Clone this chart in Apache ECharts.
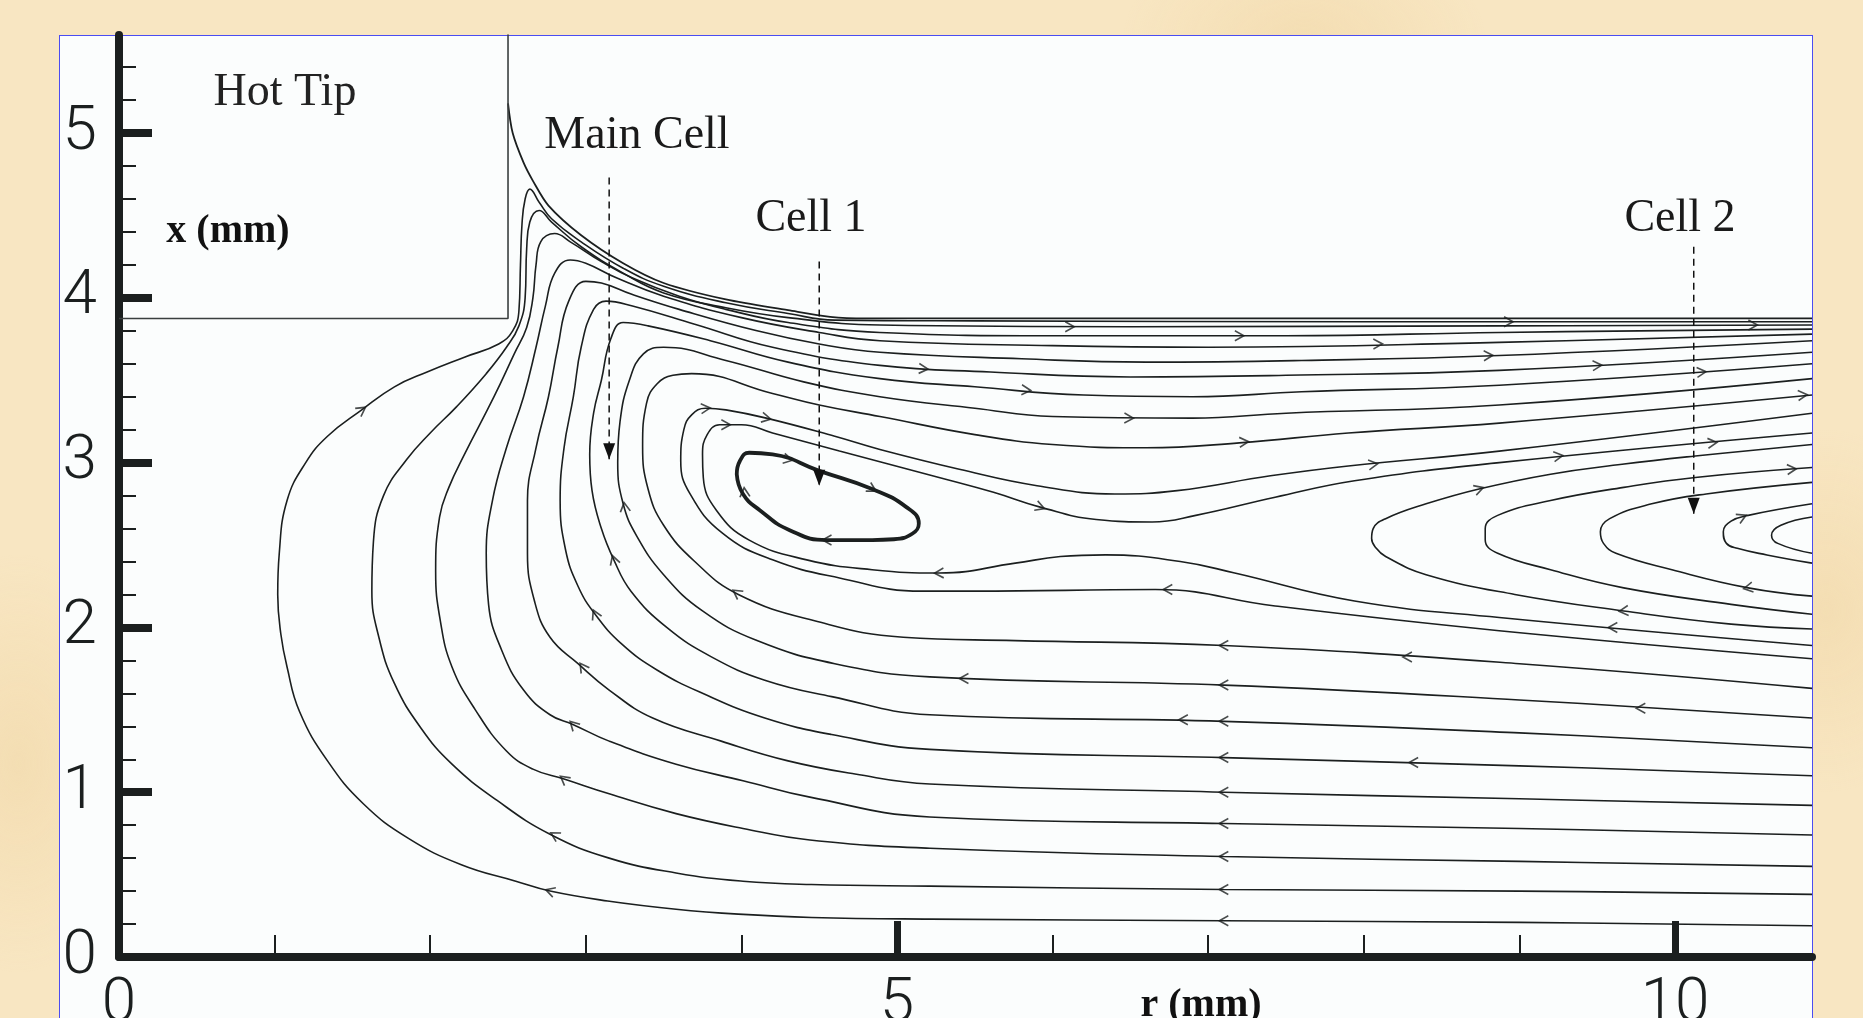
<!DOCTYPE html>
<html>
<head>
<meta charset="utf-8">
<title>Streamlines below the hot tip</title>
<script src="https://cdn.jsdelivr.net/npm/echarts@6/dist/echarts.min.js"></script>
<style>
  html, body { margin: 0; padding: 0; width: 1863px; height: 1018px; overflow: hidden; }
  body {
    background-color: #f8e6c2;
    background-image:
      radial-gradient(ellipse 220px 140px at 12% 20%, rgba(236,206,150,0.35), rgba(236,206,150,0) 70%),
      radial-gradient(ellipse 260px 160px at 70% 4%, rgba(236,206,150,0.35), rgba(236,206,150,0) 70%),
      radial-gradient(ellipse 200px 260px at 98% 60%, rgba(236,206,150,0.35), rgba(236,206,150,0) 70%),
      radial-gradient(ellipse 180px 300px at 1% 75%, rgba(236,206,150,0.35), rgba(236,206,150,0) 70%);
  }
  #frame {
    position: absolute; left: 59px; top: 35px; width: 1754px; height: 1100px;
    box-sizing: border-box; background: #fbfdfd; border: 1.5px solid #4b4cf2;
  }
  #chart { position: absolute; left: 0; top: 0; width: 1863px; height: 1018px; }
</style>
</head>
<body>
<div id="frame"></div>
<div id="chart"></div>
<script>
// ---- axis ticks and labels ----
const rTickLabels = [0, 5, 10];
const rMajorTicks = [5, 10];
const rMinorTicks = [1, 2, 3, 4, 6, 7, 8, 9];
const xTickLabels = [0, 1, 2, 3, 4, 5];
const xMajorTicks = [1, 2, 3, 4, 5];
const xMinorTicks = [0.2, 0.4, 0.6, 0.8, 1.2, 1.4, 1.6, 1.8, 2.2, 2.4, 2.6, 2.8,
                     3.2, 3.4, 3.6, 3.8, 4.2, 4.4, 4.6, 4.8, 5.2, 5.4];
const rRange = [0, 10.88];
const xRange = [0, 5.595];

// ---- geometry: hot tip outline and free surface (r, x in mm) ----
const hotTip = [[0, 3.875], [2.50, 3.875], [2.50, 5.6]];
const freeSurface = [[2.50, 5.18], [2.53, 5.00], [2.60, 4.82], [2.66, 4.71], [2.76, 4.56], [2.97, 4.38],
  [3.24, 4.21], [3.50, 4.09], [3.90, 3.99], [4.30, 3.925], [4.57, 3.885], [4.80, 3.875], [10.88, 3.875]];

// ---- main cell streamlines (outer to inner) ----
const stream01 = [[10.88, 0.19], [9.0, 0.21], [7.1, 0.22], [5.21, 0.23], [4.45, 0.24], [3.98, 0.26], [3.58, 0.29],
  [3.14, 0.34], [2.77, 0.40], [2.55, 0.46], [2.20, 0.56], [1.86, 0.72], [1.57, 0.93], [1.34, 1.19], [1.16, 1.49],
  [1.08, 1.76], [1.04, 1.96], [1.02, 2.20], [1.03, 2.45], [1.08, 2.77], [1.20, 3.00], [1.34, 3.16], [1.56, 3.32],
  [1.77, 3.46], [1.98, 3.55], [2.22, 3.64], [2.44, 3.72], [2.53, 3.80], [2.57, 3.92], [2.58, 4.20], [2.59, 4.45],
  [2.61, 4.60], [2.64, 4.66], [2.70, 4.58], [2.78, 4.48], [2.97, 4.34], [3.24, 4.18], [3.50, 4.07], [3.90, 3.97],
  [4.30, 3.905], [4.60, 3.865], [5.50, 3.86], [8.00, 3.855], [10.88, 3.855]];
const stream02 = [[10.88, 0.38], [9.0, 0.40], [7.1, 0.41], [5.21, 0.43], [4.45, 0.44], [4.01, 0.46], [3.58, 0.51],
  [3.15, 0.60], [2.77, 0.745], [2.43, 0.95], [2.14, 1.17], [1.94, 1.39], [1.77, 1.66], [1.67, 1.94], [1.625, 2.22],
  [1.635, 2.52], [1.70, 2.80], [1.85, 3.02], [2.00, 3.18], [2.17, 3.34], [2.36, 3.54], [2.49, 3.70], [2.57, 3.83],
  [2.61, 4.00], [2.62, 4.30], [2.64, 4.46], [2.70, 4.53], [2.78, 4.46], [2.97, 4.31], [3.24, 4.15], [3.50, 4.03],
  [3.90, 3.94], [4.30, 3.88], [4.89, 3.835], [6.50, 3.825], [8.87, 3.83], [10.88, 3.835]];
const stream03 = [[10.88, 0.55], [9.0, 0.58], [7.1, 0.61], [5.21, 0.66], [4.44, 0.71], [4.01, 0.78], [3.58, 0.87],
  [3.15, 0.99], [2.86, 1.08], [2.66, 1.14], [2.49, 1.25], [2.29, 1.50], [2.14, 1.76], [2.065, 2.04], [2.035, 2.34],
  [2.06, 2.67], [2.12, 2.85], [2.22, 3.05], [2.41, 3.40], [2.54, 3.66], [2.62, 3.82], [2.66, 4.00], [2.68, 4.20],
  [2.71, 4.34], [2.80, 4.39], [2.90, 4.34], [3.10, 4.22], [3.30, 4.12], [3.60, 4.01], [3.90, 3.93], [4.30, 3.85],
  [4.89, 3.79], [6.00, 3.77], [7.50, 3.77], [8.87, 3.79], [10.88, 3.81]];
const stream04 = [[10.88, 0.74], [9.0, 0.78], [7.1, 0.81], [5.21, 0.85], [4.44, 0.97], [4.01, 1.07], [3.58, 1.17],
  [3.15, 1.31], [2.92, 1.41], [2.77, 1.47], [2.60, 1.62], [2.46, 1.86], [2.375, 2.14], [2.36, 2.45], [2.40, 2.77],
  [2.49, 3.09], [2.60, 3.40], [2.68, 3.70], [2.74, 3.95], [2.80, 4.15], [2.90, 4.23], [3.00, 4.21], [3.20, 4.12],
  [3.50, 4.01], [4.00, 3.88], [4.50, 3.79], [4.89, 3.74], [6.00, 3.71], [7.00, 3.70], [8.87, 3.73], [10.88, 3.78]];
const stream05 = [[10.88, 0.92], [9.0, 0.96], [7.1, 1.00], [5.21, 1.05], [4.73, 1.11], [4.30, 1.19], [3.87, 1.31],
  [3.43, 1.45], [3.15, 1.62], [2.95, 1.78], [2.77, 1.94], [2.67, 2.16], [2.625, 2.45], [2.625, 2.77], [2.68, 3.09],
  [2.76, 3.40], [2.82, 3.70], [2.89, 3.98], [3.00, 4.10], [3.10, 4.09], [3.30, 4.02], [3.60, 3.93], [4.10, 3.80],
  [4.50, 3.72], [4.89, 3.67], [5.80, 3.63], [6.60, 3.61], [7.60, 3.62], [8.87, 3.65], [10.88, 3.74]];
const stream06 = [[10.88, 1.10], [9.0, 1.16], [7.1, 1.21], [5.21, 1.26], [4.58, 1.35], [4.15, 1.45], [3.75, 1.60],
  [3.46, 1.74], [3.23, 1.90], [3.06, 2.08], [2.95, 2.25], [2.87, 2.47], [2.835, 2.77], [2.86, 3.09], [2.92, 3.40],
  [2.97, 3.70], [3.05, 3.93], [3.13, 3.98], [3.30, 3.95], [3.70, 3.84], [4.20, 3.70], [4.89, 3.59], [5.60, 3.55],
  [6.50, 3.52], [7.50, 3.53], [8.87, 3.56], [10.88, 3.67]];
const stream07 = [[10.88, 1.27], [9.0, 1.36], [7.1, 1.43], [5.21, 1.47], [4.58, 1.58], [4.15, 1.68], [3.81, 1.82],
  [3.52, 2.00], [3.29, 2.22], [3.18, 2.41], [3.10, 2.60], [3.04, 2.83], [3.025, 3.05], [3.05, 3.30], [3.10, 3.50],
  [3.16, 3.75], [3.24, 3.85], [3.40, 3.83], [3.80, 3.74], [4.30, 3.61], [4.89, 3.51], [5.50, 3.46], [6.20, 3.41],
  [6.90, 3.40], [7.60, 3.43], [8.87, 3.47], [10.88, 3.60]];
const stream08 = [[10.88, 1.45], [9.0, 1.56], [7.1, 1.65], [5.21, 1.70], [4.60, 1.78], [4.10, 1.92], [3.75, 2.10],
  [3.50, 2.32], [3.33, 2.55], [3.24, 2.75], [3.205, 3.00], [3.22, 3.25], [3.28, 3.50], [3.37, 3.66], [3.50, 3.70],
  [3.90, 3.62], [4.40, 3.49], [4.89, 3.40], [5.50, 3.33], [6.00, 3.28], [6.90, 3.27], [7.50, 3.30], [8.87, 3.35],
  [10.88, 3.51]];
const stream09 = [[10.88, 1.63], [9.0, 1.78], [7.1, 1.89], [5.76, 1.92], [5.04, 1.94], [4.47, 2.04], [3.98, 2.20],
  [3.70, 2.40], [3.50, 2.62], [3.40, 2.84], [3.365, 3.10], [3.39, 3.36], [3.46, 3.48], [3.56, 3.53], [3.68, 3.54],
  [4.20, 3.42], [4.50, 3.35], [4.89, 3.28], [5.50, 3.17], [6.00, 3.11], [6.60, 3.09], [7.20, 3.12], [7.90, 3.18],
  [8.87, 3.24], [10.88, 3.41]];
const stream10 = [[10.88, 1.81], [8.87, 1.98], [7.43, 2.13], [6.66, 2.23], [5.50, 2.22], [5.16, 2.22], [4.63, 2.30],
  [4.20, 2.41], [3.88, 2.57], [3.67, 2.81], [3.61, 3.01], [3.63, 3.20], [3.68, 3.29], [3.77, 3.33], [3.90, 3.32],
  [4.16, 3.27], [4.60, 3.16], [4.89, 3.08], [5.40, 2.96], [5.90, 2.86], [6.40, 2.81], [6.80, 2.83], [7.40, 2.92],
  [7.90, 2.98], [8.87, 3.07], [10.88, 3.30]];
const stream11 = [[10.88, 1.89], [8.87, 2.06], [7.94, 2.16], [7.17, 2.33], [6.82, 2.40], [6.34, 2.44], [6.05, 2.43],
  [5.76, 2.39], [5.27, 2.33], [4.84, 2.35], [4.42, 2.41], [4.05, 2.53], [3.84, 2.71], [3.755, 2.91], [3.75, 3.05],
  [3.78, 3.17], [3.86, 3.23], [4.00, 3.23], [4.20, 3.18], [4.63, 3.07], [5.27, 2.91], [5.62, 2.82], [5.92, 2.73],
  [6.28, 2.655], [6.64, 2.64], [6.92, 2.68], [7.43, 2.79], [7.94, 2.89], [8.87, 3.00], [10.88, 3.18]];

// ---- cell 1: closed loop ----
const cell1Core = [[3.97, 2.93], [3.99, 3.01], [4.05, 3.06], [4.20, 3.05], [4.50, 2.95], [4.84, 2.84], [5.06, 2.73],
  [5.14, 2.63], [5.10, 2.57], [4.98, 2.535], [4.84, 2.53], [4.55, 2.53], [4.31, 2.59], [4.12, 2.71], [4.01, 2.81],
  [3.97, 2.93]];

// ---- cell 2: loops opening to the right edge ----
const cell2Loop1 = [[10.88, 3.11], [10.13, 3.04], [9.66, 2.99], [9.20, 2.93], [8.74, 2.84], [8.40, 2.75], [8.14, 2.66],
  [8.06, 2.60], [8.05, 2.54], [8.08, 2.48], [8.14, 2.43], [8.40, 2.32], [8.97, 2.20], [9.67, 2.10], [10.36, 2.02],
  [10.88, 1.99]];
const cell2Loop2 = [[10.88, 2.97], [10.13, 2.91], [9.67, 2.85], [9.20, 2.77], [8.86, 2.68], [8.78, 2.60], [8.78, 2.53],
  [8.86, 2.45], [9.20, 2.35], [9.67, 2.24], [10.36, 2.14], [10.88, 2.08]];
const cell2Loop3 = [[10.88, 2.88], [10.20, 2.81], [9.85, 2.75], [9.58, 2.66], [9.52, 2.58], [9.54, 2.51], [9.62, 2.45],
  [9.98, 2.35], [10.47, 2.24], [10.88, 2.19]];
const cell2Loop4 = [[10.88, 2.75], [10.47, 2.68], [10.36, 2.645], [10.31, 2.58], [10.33, 2.51], [10.40, 2.48],
  [10.59, 2.44], [10.88, 2.39]];
const cell2Loop5 = [[10.88, 2.67], [10.68, 2.62], [10.62, 2.56], [10.66, 2.51], [10.88, 2.45]];

// ---- pointer lines for the cell names: [r, top x, tip x] ----
const mainCellPointer = [3.15, 4.73, 3.02];
const cell1Pointer = [4.50, 4.22, 2.86];
const cell2Pointer = [10.12, 4.31, 2.69];

// ---- direction marks on the streamlines: [r, x, flow angle in degrees] ----
const flowArrows = [
  [7.1, 0.22, 180], [7.1, 0.41, 180], [7.1, 0.61, 180], [7.1, 0.81, 180], [7.1, 1.00, 180], [7.1, 1.21, 180],
  [7.1, 1.43, 180], [6.84, 1.44, 180], [7.1, 1.65, 180], [5.43, 1.69, 180], [7.1, 1.89, 180], [8.28, 1.82, 180],
  [9.78, 1.51, 180], [8.32, 1.18, 180], [9.6, 2.00, 180], [6.74, 2.23, 180], [5.27, 2.33, 182], [9.67, 2.10, 185],
  [10.47, 2.24, 190],
  [2.77, 0.40, 162], [2.80, 0.74, 150], [2.86, 1.08, 142], [2.92, 1.41, 135], [2.98, 1.76, 125], [3.06, 2.08, 115],
  [3.18, 2.41, 108], [3.25, 2.73, 98], [3.97, 2.21, 145], [1.56, 3.32, 35],
  [8.93, 3.855, 0], [10.5, 3.835, 0], [6.11, 3.825, 0], [7.20, 3.77, 0], [8.09, 3.72, 1], [8.80, 3.65, 2],
  [9.5, 3.59, 3], [10.17, 3.55, 5], [10.82, 3.41, 5], [5.17, 3.57, -4], [5.83, 3.44, -4], [6.49, 3.27, -1],
  [7.23, 3.125, 4], [8.06, 2.99, 8], [5.92, 2.73, -20], [9.25, 3.04, 8], [10.24, 3.12, 6], [10.75, 2.96, 5],
  [8.74, 2.84, 18], [10.43, 2.67, 25], [3.77, 3.33, 5], [4.16, 3.27, -12], [3.90, 3.23, 0],
  [4.30, 3.02, -12], [4.84, 2.84, -30], [4.55, 2.53, 180], [4.02, 2.82, 95]
];

// ---- labels ----
const labelTexts = ['Hot Tip', 'Main Cell', 'Cell 1', 'Cell 2', 'x (mm)', 'r (mm)'];

const INK = '#1b1f1f';
const streamlines = [stream01, stream02, stream03, stream04, stream05, stream06, stream07, stream08,
  stream09, stream10, stream11, cell2Loop1, cell2Loop2, cell2Loop3, cell2Loop4, cell2Loop5];

const series = [];
streamlines.forEach(function (pts) {
  series.push({
    type: 'line', data: pts, smooth: 0.45, smoothConstraint: false, showSymbol: false, silent: true,
    lineStyle: { color: INK, width: 1.6 }, z: 3
  });
});
series.push({
  type: 'line', data: cell1Core, smooth: 0.5, smoothConstraint: false, showSymbol: false, silent: true,
  lineStyle: { color: INK, width: 3.8 }, z: 3
});
series.push({
  type: 'line', data: freeSurface, smooth: 0.3, showSymbol: false, silent: true,
  lineStyle: { color: INK, width: 1.8 }, z: 3
});
series.push({
  type: 'line', data: hotTip, showSymbol: false, silent: true,
  lineStyle: { color: '#3a3f3f', width: 1.6 }, z: 3
});
[mainCellPointer, cell1Pointer, cell2Pointer].forEach(function (p) {
  series.push({
    type: 'line', silent: true, z: 4, showSymbol: true, symbol: 'none',
    lineStyle: { color: '#111', width: 1.5, type: [7, 5] },
    data: [
      { value: [p[0], p[1]], symbol: 'none' },
      { value: [p[0], p[2]], symbol: 'triangle', symbolSize: [12, 16], symbolRotate: 180,
        symbolOffset: [0, -8], itemStyle: { color: '#111' } }
    ]
  });
});
series.push({
  type: 'scatter', silent: true, z: 5,
  symbol: 'path://M0,0L10,5L0,10',
  symbolSize: [9, 10],
  itemStyle: { color: 'rgba(0,0,0,0)', borderColor: INK, borderWidth: 1.6 },
  data: flowArrows.map(function (a) { return { value: [a[0], a[1]], symbolRotate: a[2] }; })
});

const tickFont = { fontFamily: 'Roboto', fontWeight: 300, fontSize: 62, color: '#1b1f1f' };

const chart = echarts.init(document.getElementById('chart'), null, { renderer: 'canvas' });
chart.setOption({
  animation: false,
  backgroundColor: 'transparent',
  grid: { left: 119, right: 51, top: 35, bottom: 61, containLabel: false, outerBoundsMode: 'none' },
  xAxis: [{
    type: 'value', min: rRange[0], max: rRange[1], position: 'bottom',
    axisLine: { lineStyle: { color: INK, width: 8 } },
    axisTick: { show: true, inside: true, length: 36, lineStyle: { color: INK, width: 7 }, customValues: rMajorTicks },
    axisLabel: Object.assign({ customValues: rTickLabels, margin: 17 }, tickFont),
    splitLine: { show: false }
  }, {
    type: 'value', min: rRange[0], max: rRange[1], position: 'bottom',
    axisLine: { show: false },
    axisTick: { show: true, inside: true, length: 22, lineStyle: { color: INK, width: 2 }, customValues: rMinorTicks },
    axisLabel: { show: false }, splitLine: { show: false }
  }],
  yAxis: [{
    type: 'value', min: xRange[0], max: xRange[1], position: 'left',
    axisLine: { lineStyle: { color: INK, width: 8 } },
    axisTick: { show: true, inside: true, length: 33, lineStyle: { color: INK, width: 8 }, customValues: xMajorTicks },
    axisLabel: Object.assign({ customValues: xTickLabels, margin: 22, padding: [8, 0, 0, 0] }, tickFont),
    splitLine: { show: false }
  }, {
    type: 'value', min: xRange[0], max: xRange[1], position: 'left',
    axisLine: { show: false },
    axisTick: { show: true, inside: true, length: 17, lineStyle: { color: INK, width: 2 }, customValues: xMinorTicks },
    axisLabel: { show: false }, splitLine: { show: false }
  }],
  graphic: [
    { type: 'text', x: 285, y: 93, z: 10, style: { text: labelTexts[0], font: '46px "Liberation Serif", serif', fill: '#222', align: 'center', verticalAlign: 'middle' } },
    { type: 'text', x: 637, y: 136, z: 10, style: { text: labelTexts[1], font: '46px "Liberation Serif", serif', fill: '#1a1a1a', align: 'center', verticalAlign: 'middle' } },
    { type: 'text', x: 811, y: 219, z: 10, style: { text: labelTexts[2], font: '46px "Liberation Serif", serif', fill: '#1a1a1a', align: 'center', verticalAlign: 'middle' } },
    { type: 'text', x: 1680, y: 219, z: 10, style: { text: labelTexts[3], font: '46px "Liberation Serif", serif', fill: '#1a1a1a', align: 'center', verticalAlign: 'middle' } },
    { type: 'text', x: 228, y: 232, z: 10, style: { text: labelTexts[4], font: 'bold 40px "Liberation Serif", serif', fill: '#111', align: 'center', verticalAlign: 'middle' } },
    { type: 'text', x: 1201, y: 1006, z: 10, style: { text: labelTexts[5], font: 'bold 40px "Liberation Serif", serif', fill: '#111', align: 'center', verticalAlign: 'middle' } }
  ],
  series: series
});
</script>
</body>
</html>
